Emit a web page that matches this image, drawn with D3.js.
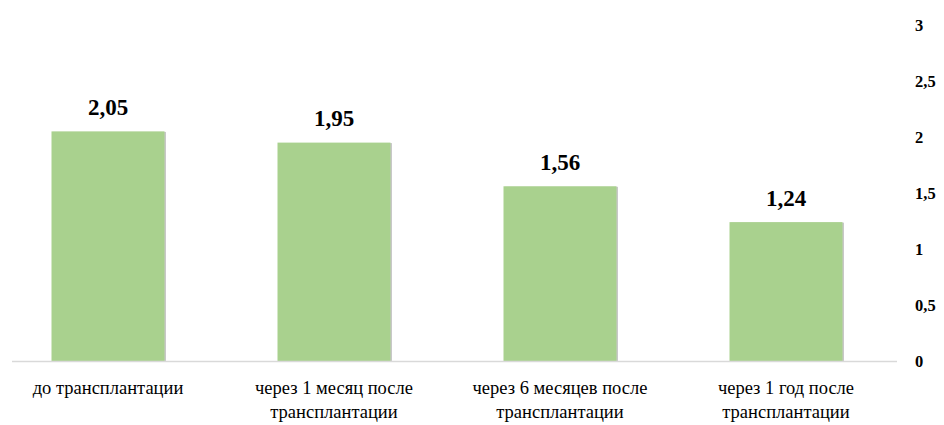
<!DOCTYPE html>
<html>
<head>
<meta charset="utf-8">
<script src="https://cdn.jsdelivr.net/npm/d3@7"></script>
</head>
<body style="margin:0;background:#fff">
<svg id="chart" width="944" height="425" style="display:block" font-family="Times New Roman, serif"></svg>
<script>
// Categories (two-line labels) and values
const categories = [
  ["до трансплантации"],
  ["через 1 месяц после", "трансплантации"],
  ["через 6 месяцев после", "трансплантации"],
  ["через 1 год после", "трансплантации"]
];
const values = [2.05, 1.95, 1.56, 1.24];
const valueLabels = ["2,05", "1,95", "1,56", "1,24"];
const tickValues = [0, 0.5, 1, 1.5, 2, 2.5, 3];
const tickLabels = ["0", "0,5", "1", "1,5", "2", "2,5", "3"];

const svg = d3.select("#chart");
const plot = { left: 12, right: 897, top: 25, bottom: 361 };

const x = d3.scaleBand()
  .domain(d3.range(values.length))
  .range([-5, 899])
  .paddingInner(0.5)
  .paddingOuter(0.25);

const y = d3.scaleLinear().domain([0, 3]).range([plot.bottom, plot.top]);

// bars, with a thin darker edge on the right as a shadow
const bars = svg.append("g");
bars.selectAll("rect.sh")
  .data(values)
  .join("rect")
  .attr("class", "sh")
  .attr("x", (d, i) => x(i) + 1.5)
  .attr("y", d => y(d) + 0.5)
  .attr("width", x.bandwidth())
  .attr("height", d => y(0) - y(d) - 0.5)
  .attr("fill", "#c8c8c8");
bars.selectAll("rect.bar")
  .data(values)
  .join("rect")
  .attr("class", "bar")
  .attr("x", (d, i) => x(i))
  .attr("y", d => y(d))
  .attr("width", x.bandwidth())
  .attr("height", d => y(0) - y(d))
  .attr("fill", "#a9d18e");

// baseline
svg.append("line")
  .attr("x1", plot.left).attr("x2", plot.right)
  .attr("y1", y(0) + 0.5).attr("y2", y(0) + 0.5)
  .attr("stroke", "#d9d9d9").attr("stroke-width", 1.3);

// right value axis (labels only)
const axis = d3.axisRight(y).tickValues(tickValues)
  .tickFormat((d, i) => tickLabels[i]).tickSize(0).tickPadding(0);
const ga = svg.append("g").attr("transform", "translate(915,0)").call(axis);
ga.attr("font-family", "Times New Roman, serif").attr("font-size", 16.5).attr("font-weight", "bold");
ga.select(".domain").remove();
ga.selectAll("text").attr("fill", "#000");

// value labels
svg.append("g").selectAll("text")
  .data(values)
  .join("text")
  .attr("x", (d, i) => x(i) + x.bandwidth() / 2)
  .attr("y", d => y(d) - 16.5)
  .attr("text-anchor", "middle")
  .attr("font-size", 23).attr("font-weight", "bold").attr("fill", "#000")
  .text((d, i) => valueLabels[i]);

// category labels
const cat = svg.append("g").selectAll("text")
  .data(categories)
  .join("text")
  .attr("x", (d, i) => x(i) + x.bandwidth() / 2)
  .attr("y", 394)
  .attr("text-anchor", "middle")
  .attr("font-size", 18.5).attr("fill", "#000");
cat.selectAll("tspan")
  .data(d => d)
  .join("tspan")
  .attr("x", function () { return d3.select(this.parentNode).attr("x"); })
  .attr("dy", (d, i) => i === 0 ? 0 : 24)
  .text(d => d);
</script>
</body>
</html>
